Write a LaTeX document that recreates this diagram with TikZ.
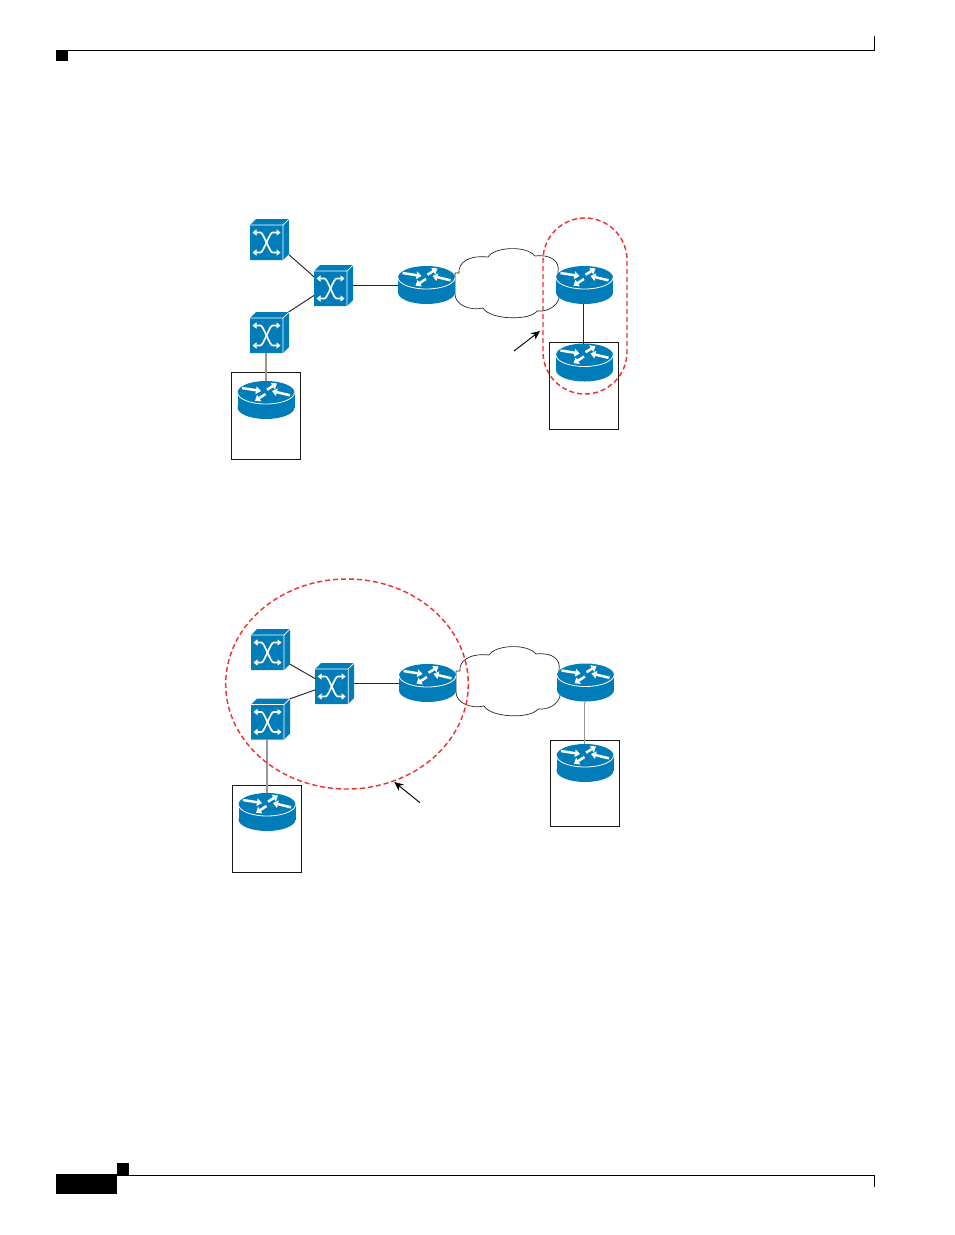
\documentclass[tikz,border=0pt]{standalone}
\usepackage{xcolor}
\usepackage{tikz}
\usetikzlibrary{arrows.meta}
\definecolor{netblue}{RGB}{0,125,184}
\definecolor{scopered}{RGB}{238,50,50}
\definecolor{linkgray}{RGB}{150,150,150}
\tikzset{
  swbox/.style={inner sep=0pt, outer sep=0pt, minimum width=39pt, minimum height=41pt},
  rtbox/.style={inner sep=0pt, outer sep=0pt, minimum width=57pt, minimum height=38pt},
  hostbox/.style={draw=black!90, line width=0.9pt, inner sep=0pt, minimum width=69pt, minimum height=86.5pt},
  link/.style={draw=black!85, line width=0.95pt},
  glink/.style={draw=linkgray, line width=1.1pt},
  scoperim/.style={draw=scopered, line width=1.45pt, dash pattern=on 5pt off 3pt},
  callout/.style={-{Stealth[length=9pt,width=8pt]}, draw=black, line width=0.95pt},
  cloudln/.style={draw=black!85, line width=0.7pt, fill=white},
  wharr/.style={draw=white, line width=2.5pt, -{Triangle[length=5pt,width=7.5pt]}},
  swarr/.style={draw=white, line width=1.7pt, {Triangle[length=4pt,width=6.2pt]}-{Triangle[length=4pt,width=6.2pt]}},
  chrome/.style={draw=black, line width=1.4pt},
  pics/swicon/.style={code={
    \fill[netblue] (-19.5,-14.5) -- (-13.5,-20.5) -- (19.5,-20.5) -- (19.5,14.5) -- (13.5,20.5) -- (-19.5,20.5) -- cycle;
    \draw[white, line width=0.7pt] (-19.5,-14.5) -- (13.5,-14.5) -- (13.5,20.5) (13.5,-14.5) -- (19.5,-20.5);
    \draw[swarr] (-17,-7) -- (-9,-7) .. controls (-6,-7) and (0,13) .. (3,13) -- (11,13);
    \draw[swarr] (-17,13) -- (-9,13) .. controls (-6,13) and (0,-7) .. (3,-7) -- (11,-7);
  }},
  pics/rticon/.style={code={
    \fill[netblue] (0,-7.5) ellipse[x radius=28.5, y radius=11.5];
    \fill[netblue] (0,7.5) ellipse[x radius=28.5, y radius=11.5];
    \fill[netblue] (-28.5,-7.5) rectangle (28.5,7.5);
    \draw[white, line width=0.8pt] (-28.5,-7.5) arc[start angle=180, end angle=0, x radius=28.5, y radius=11.5];
    \draw[wharr] (-24,-12) -- (-5,-9);
    \draw[wharr] (24,-4.7) -- (6,-9);
    \draw[wharr] (1,-10.3) -- (11,-16.5);
    \draw[wharr] (-0.5,-6) -- (-11,0.8);
  }},
  pics/cloudpath/.style={code={
    \draw[cloudln] (455,273) -- (459,273) .. controls (458,263) and (468,255) .. (488,257)
      .. controls (494,247) and (526,245) .. (535,256)
      .. controls (552,254) and (560,262) .. (558,272) -- (559,298)
      .. controls (557,306) and (548,312) .. (537,311)
      .. controls (530,321) and (490,320) .. (483,308)
      .. controls (470,311) and (455,305) .. (455,294) -- cycle;
  }}
}
\begin{document}
\begin{tikzpicture}[x=1pt, y=-1pt]
  \useasboundingbox (0,0) rectangle (954,1235);
  \draw[chrome] (56,50.5) -- (874.3,50.5) -- (874.3,36);
  \fill[black] (56,50) rectangle (68,61);
  \draw[chrome] (117,1175.5) -- (874.3,1175.5) -- (874.3,1187);
  \fill[black] (56,1174) rectangle (117,1194);
  \fill[black] (117,1163) rectangle (129,1175);

  \pic at (0,0) {cloudpath};
  \node[hostbox] (hostwa) at (266,416) {};
  \node[hostbox] (hostea) at (584,386) {};
  \node[swbox] (swna) at (269.5,239.5) {};
  \pic at (swna) {swicon};
  \node[swbox] (swca) at (333.5,285.5) {};
  \pic at (swca) {swicon};
  \node[swbox] (swsa) at (269.5,332.5) {};
  \pic at (swsa) {swicon};
  \node[rtbox] (rtea) at (426.5,285) {};
  \pic at (rtea) {rticon};
  \node[rtbox] (rtpa) at (584.5,285) {};
  \pic at (rtpa) {rticon};
  \node[rtbox] (rtha) at (584.5,362.5) {};
  \pic at (rtha) {rticon};
  \node[rtbox] (rtwa) at (266,400) {};
  \pic at (rtwa) {rticon};
  \draw[link] (swna.-38) -- (swca.156);
  \draw[link] (swsa.47) -- (swca.207);
  \draw[link] (swca.east) -- (swca.east -| rtea.west);
  \draw[link] ([xshift=-1pt]rtpa.south) -- ([xshift=-1pt]rtha.north);
  \draw[glink] (rtwa.north |- swsa.south) -- (rtwa.north);
  \node[scoperim, rounded corners=42pt, minimum width=84pt, minimum height=176pt] (peera) at (585,306) {};
  \coordinate (calla) at (514,351);
  \coordinate (tipa) at (540,331);
  \draw[callout] (calla) -- (tipa);

  \pic at (1,398) {cloudpath};
  \node[hostbox] (hostwb) at (267,829) {};
  \node[hostbox] (hosteb) at (584.8,783.5) {};
  \node[swbox] (swnb) at (270.5,649.5) {};
  \pic at (swnb) {swicon};
  \node[swbox] (swcb) at (334.7,683.5) {};
  \pic at (swcb) {swicon};
  \node[swbox] (swsb) at (270.5,719) {};
  \pic at (swsb) {swicon};
  \node[rtbox] (rteb) at (427.5,683) {};
  \pic at (rteb) {rticon};
  \node[rtbox] (rtpb) at (585.5,682.5) {};
  \pic at (rtpb) {rticon};
  \node[rtbox] (rthb) at (585,763) {};
  \pic at (rthb) {rticon};
  \node[rtbox] (rtwb) at (267,812) {};
  \pic at (rtwb) {rticon};
  \draw[link] (swnb.-37) -- (swcb.166);
  \draw[link] (swsb.46) -- (swcb.198);
  \draw[link] (swcb.east) -- (swcb.east -| rteb.west);
  \draw[glink] ([xshift=-1pt]rtpb.south) -- ([xshift=-0.5pt]rthb.north);
  \draw[glink] (rtwb.north |- swsb.south) -- (rtwb.north);
  \draw[scoperim] (347,684) ellipse[x radius=121.3, y radius=105];
  \coordinate (callb) at (420,802.7);
  \coordinate (tipb) at (394.3,782);
  \draw[callout] (callb) -- (tipb);
\end{tikzpicture}
\end{document}
